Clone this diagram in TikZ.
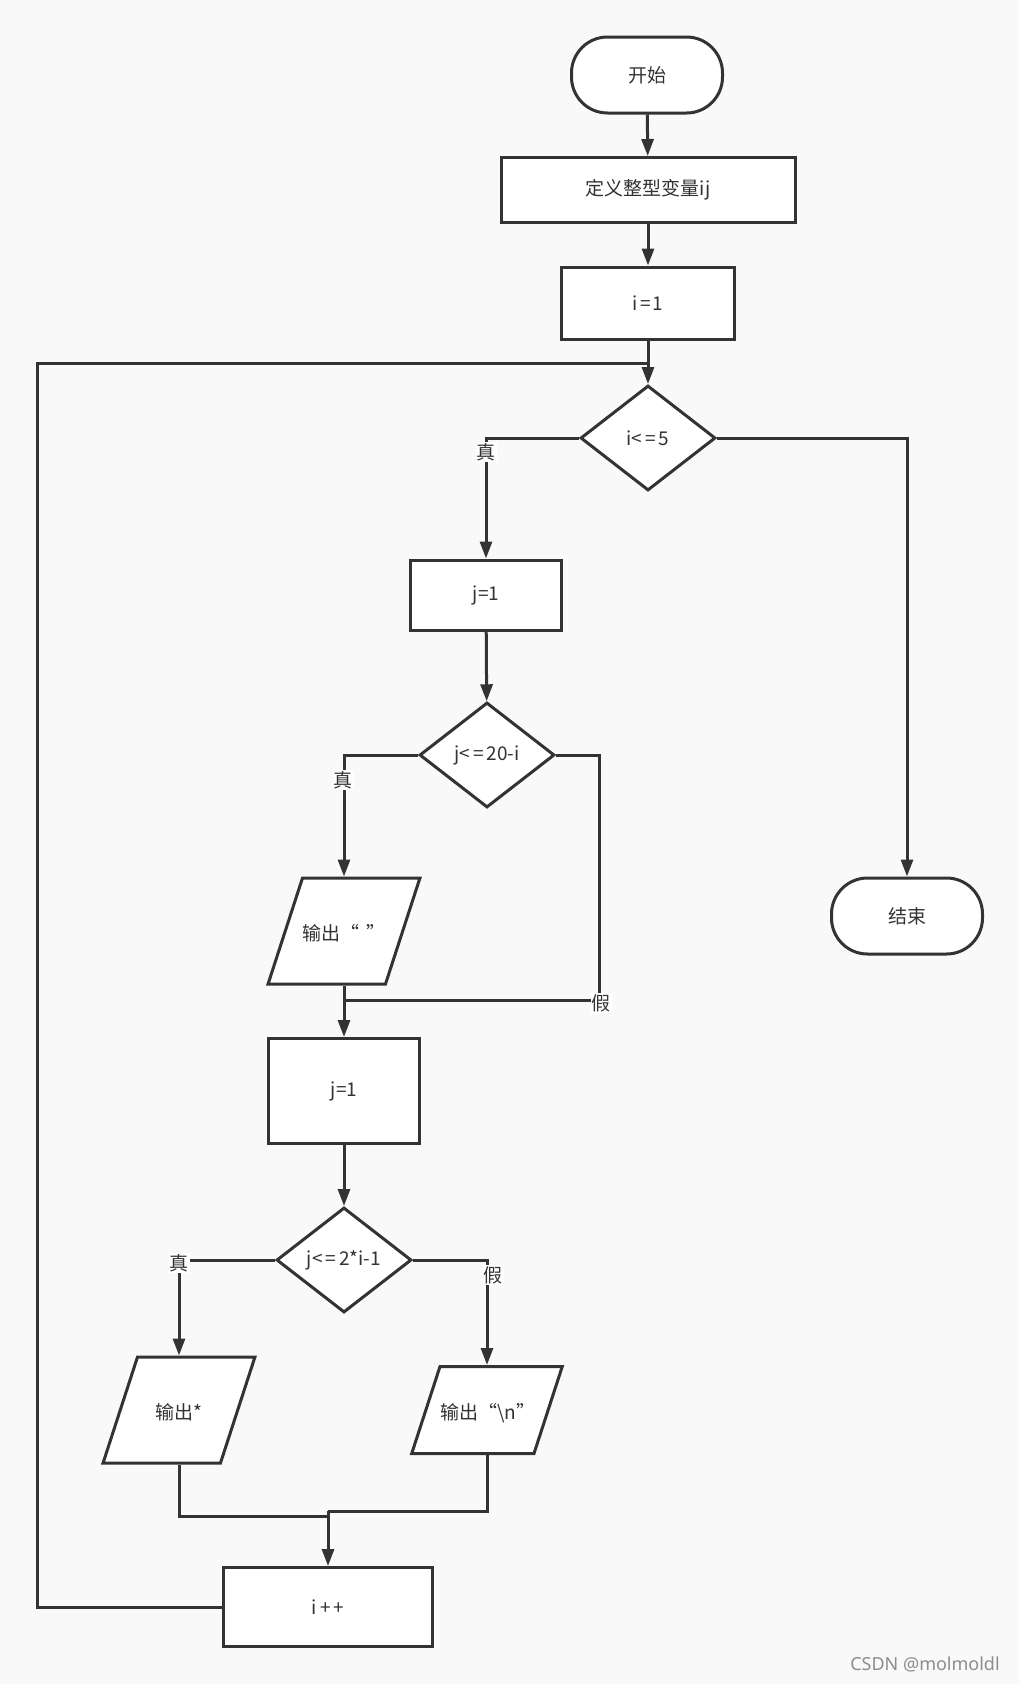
\documentclass[tikz,border=0pt]{standalone}
\usepackage{fontspec}
\setmainfont{Noto Sans CJK SC}
\newfontfamily\wmfont{Noto Sans}
\usetikzlibrary{shapes.geometric,arrows.meta,calc}
\definecolor{bg}{HTML}{F9F9F9}
\definecolor{ln}{HTML}{333333}
\begin{document}
\begin{tikzpicture}[x=1pt,y=-1pt,
  font=\fontsize{19}{22}\selectfont,
  box/.style={draw=ln, line width=3pt, fill=white, rectangle, inner sep=0pt, align=center, text=ln},
  term/.style={box, rounded corners=36pt},
  dec/.style={draw=ln, line width=3pt, fill=white, diamond, inner sep=0pt, shape aspect=1.3,
    minimum width=135pt, minimum height=105pt, text=ln},
  io/.style={draw=ln, line width=3pt, fill=white, trapezium, trapezium left angle=72,
    trapezium right angle=108, inner xsep=0pt, text height=19pt, text depth=0pt,
    align=center, text=ln},
  conn/.style={draw=ln, line width=3pt},
  arr/.style={conn, -{Triangle[length=17pt,width=12pt]}},
  lbl/.style={fill=white, inner sep=1pt, text=ln}
]
\useasboundingbox (0,0) rectangle (1019,1684);
\path[fill=bg] (0,0) rectangle (1019,1684);

% nodes
\node[term, minimum width=151pt, minimum height=76pt] (start) at (647,75) {开始};
\node[box, minimum width=294pt, minimum height=65pt] (def) at (648,190) {定义整型变量ij};
\node[box, minimum width=173pt, minimum height=72pt] (i1) at (648,303) {i\kern2pt=\kern2pt1};
\node[dec] (d1) at (648,438) {i<\kern3pt=\kern3pt5};
\node[box, minimum width=151pt, minimum height=70pt] (j1a) at (486,595) {j=1};
\node[term, minimum width=151pt, minimum height=76pt] (end) at (907,916) {结束};
\node[dec] (d2) at (487,755) {j<\kern3pt=\kern3pt20-i};
\node[io, text width=83pt, inner ysep=43.5pt] (p1) at (344,931) {输出“ ”};
\node[box, minimum width=151pt, minimum height=105pt] (j1b) at (344,1091) {j=1};
\node[dec] (d3) at (344,1260) {j<\kern3pt=\kern3pt2*i-1};
\node[io, text width=83pt, inner ysep=43.5pt] (p2) at (179,1410) {输出*};
\node[io, text width=94pt, inner ysep=34pt] (p3) at (487,1410) {输出“\textbackslash n”};
\node[box, minimum width=209pt, minimum height=79pt] (ipp) at (328,1607) {i\kern3pt+\kern3pt+};

% helper coordinates
\coordinate (loopL) at (37,363);
\coordinate (loopR) at (648,363);
\coordinate (f1) at (599,1000);
\coordinate (m1) at (344,1000);
\coordinate (m2) at (328,1516);
\coordinate (m3) at (328,1511);

% connectors
\draw[arr] (start) -- (def);
\draw[arr] (def) -- (i1);
\draw[arr] (i1) -- (d1);
\draw[arr] (d1.west) -| (j1a.north);
\draw[arr] (d1.east) -| (end.north);
\draw[arr] (j1a) -- (d2);
\draw[arr] (d2.west) -| (p1.north);
\draw[conn] (d2.east) -| (f1) -- (m1);
\draw[arr] (p1.south) -- (j1b.north);
\draw[arr] (j1b) -- (d3);
\draw[arr] (d3.west) -| (p2.north);
\draw[arr] (d3.east) -| (p3.north);
\draw[conn] (p2.south) |- (m2);
\draw[conn] (p3.south) |- (m3);
\draw[arr] (m3) -- (ipp.north);
\draw[conn] (ipp.west) -| (loopL) -- (loopR);

% labels
\node[lbl] (t1) at (486,452) {真};
\node[lbl] (t2) at (343,780) {真};
\node[lbl] (t3) at (179,1263) {真};
\node[lbl] (fa1) at (601,1003) {假};
\node[lbl] (fa2) at (493,1275) {假};

\node[text=black!45, font=\wmfont\fontsize{18}{20}\selectfont] (csdn) at (925,1664) {CSDN @molmoldl};
\end{tikzpicture}
\end{document}
